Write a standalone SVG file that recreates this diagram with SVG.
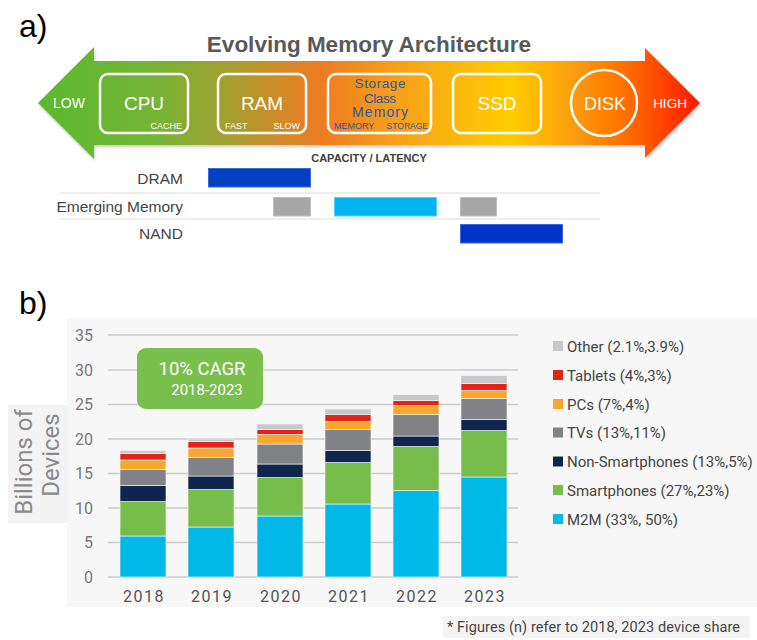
<svg xmlns="http://www.w3.org/2000/svg" width="757" height="640" viewBox="0 0 757 640">
<defs>
<linearGradient id="arrowGrad" gradientUnits="userSpaceOnUse" x1="38" y1="0" x2="700" y2="0">
<stop offset="0" stop-color="#5cb82e"/>
<stop offset="0.17" stop-color="#72b535"/>
<stop offset="0.29" stop-color="#a49f2f"/>
<stop offset="0.365" stop-color="#cf8a29"/>
<stop offset="0.426" stop-color="#ee7b22"/>
<stop offset="0.547" stop-color="#f6a21a"/>
<stop offset="0.713" stop-color="#ffcc00"/>
<stop offset="0.804" stop-color="#fca00a"/>
<stop offset="0.894" stop-color="#ff6a00"/>
<stop offset="1" stop-color="#ff1800"/>
</linearGradient>
<filter id="shadow" x="-5%" y="-10%" width="110%" height="130%">
<feDropShadow dx="1" dy="2" stdDeviation="1.5" flood-color="#000" flood-opacity="0.2"/>
</filter>
</defs>
<style>
.panel{font-family:"Liberation Sans",Arial,sans-serif;fill:#000;font-size:32px}
.title{font-family:"Liberation Sans",Arial,sans-serif;font-weight:bold;font-size:22.5px;fill:#595959}
.box{fill:none;stroke:#fff;stroke-width:2.5}
.wt{font-family:"Liberation Sans",Arial,sans-serif;fill:#fff}
.big{font-size:19px}
.small{font-size:9px}
.scm{font-family:"Liberation Sans",Arial,sans-serif;fill:#2f55a4}
.lane{font-family:"Liberation Sans",Arial,sans-serif;font-size:15.5px;fill:#444;text-anchor:end}
.sep{stroke:#dcdcdc;stroke-width:1}
.cap{font-family:"Liberation Sans",Arial,sans-serif;font-weight:bold;font-size:11px;fill:#404040;text-anchor:middle}
.grid{stroke:#cbcbcb;stroke-width:1.5}
.ytick{font-family:Roboto,"Liberation Sans",sans-serif;font-size:16px;fill:#777;text-anchor:end}
.xtick{font-family:Roboto,"Liberation Sans",sans-serif;font-size:16px;fill:#555;text-anchor:middle;letter-spacing:1.5px}
.leg{font-family:Roboto,"Liberation Sans",sans-serif;font-size:15px;fill:#444}
.m2m{fill:#00b9e8}.sm{fill:#76bd4b}.ns{fill:#0f274f}.tv{fill:#808285}.pc{fill:#f8a72e}.tab{fill:#e2231a}.oth{fill:#c8c8ca}
.seg rect{stroke:#f7f7f7;stroke-width:0.6}
</style>

<text class="panel" x="19" y="37">a)</text>
<text class="title" x="369" y="52" text-anchor="middle">Evolving Memory Architecture</text>

<g id="scale-arrow">
<path d="M38,103 L94,47 L94,61 L645,61 L645,48 L700,103 L645,158 L645,145 L94,145 L94,159 Z" fill="url(#arrowGrad)" filter="url(#shadow)"/>
<text class="wt" x="69" y="108" font-size="14" text-anchor="middle">LOW</text>
<text class="wt" x="670" y="108" font-size="13.5" text-anchor="middle">HIGH</text>
</g>

<g id="node-cpu">
<rect class="box" x="100" y="74" width="88" height="59" rx="8"/>
<text class="wt big" x="144" y="110" text-anchor="middle">CPU</text>
<text class="wt small" x="182" y="129" text-anchor="end">CACHE</text>
</g>
<g id="node-ram">
<rect class="box" x="218" y="74" width="88" height="59" rx="8"/>
<text class="wt big" x="262" y="110" text-anchor="middle">RAM</text>
<text class="wt small" x="225" y="129">FAST</text>
<text class="wt small" x="300" y="129" text-anchor="end">SLOW</text>
</g>
<g id="node-scm">
<rect class="box" x="328" y="74" width="103" height="59" rx="8"/>
<text class="scm" x="380" y="88" font-size="13.5" text-anchor="middle" textLength="51">Storage</text>
<text class="scm" x="380" y="102.5" font-size="13.5" text-anchor="middle" textLength="32">Class</text>
<text class="scm" x="380" y="117" font-size="14" text-anchor="middle" textLength="56">Memory</text>
<text class="scm" x="334" y="129" font-size="9">MEMORY</text>
<text class="scm" x="428" y="129" font-size="8.5" text-anchor="end">STORAGE</text>
</g>
<g id="node-ssd">
<rect class="box" x="453" y="74" width="88" height="59" rx="8"/>
<text class="wt big" x="497" y="110" text-anchor="middle">SSD</text>
</g>
<g id="node-disk">
<circle cx="604" cy="103" r="33" fill="none" stroke="#fff" stroke-width="2.5"/>
<text class="wt" x="605" y="110" font-size="18" text-anchor="middle">DISK</text>
</g>

<text class="cap" x="369" y="162">CAPACITY / LATENCY</text>

<g id="lanes">
<line class="sep" x1="60" y1="193" x2="600" y2="193"/>
<line class="sep" x1="60" y1="219" x2="600" y2="219"/>
</g>
<g id="lane-dram">
<text class="lane" x="183" y="184">DRAM</text>
<rect x="208.5" y="168.5" width="102" height="18.5" fill="#0041c2" stroke="#3a6ad8" stroke-width="1"/>
</g>
<g id="lane-emerging">
<text class="lane" x="183" y="212">Emerging Memory</text>
<rect x="273.5" y="197.5" width="37" height="18.5" fill="#a6a6a6" stroke="#bdbdbd" stroke-width="1"/>
<rect x="334.5" y="197.5" width="102" height="18.5" fill="#00b4f0" stroke="#5cd0f6" stroke-width="1"/>
<rect x="460.5" y="197.5" width="36" height="18.5" fill="#a6a6a6" stroke="#bdbdbd" stroke-width="1"/>
</g>
<g id="lane-nand">
<text class="lane" x="183" y="239">NAND</text>
<rect x="460.5" y="224.5" width="102" height="18.5" fill="#0033c8" stroke="#3a6ad8" stroke-width="1"/>
</g>

<text class="panel" x="19" y="314">b)</text>

<g id="chart">
<rect x="67" y="318" width="690" height="289" fill="#f7f7f7"/>
<rect x="8" y="405" width="59" height="118" fill="#f3f3f3"/>
<g transform="translate(32,462) rotate(-90)"><text x="0" y="0" font-family="Roboto,'Liberation Sans',sans-serif" font-size="24" fill="#8a8a8a" text-anchor="middle">Billions of</text></g>
<g transform="translate(59,455) rotate(-90)"><text x="0" y="0" font-family="Roboto,'Liberation Sans',sans-serif" font-size="24" fill="#8a8a8a" text-anchor="middle">Devices</text></g>

<g id="gridlines">
<line class="grid" x1="108" y1="335" x2="518" y2="335"/>
<line class="grid" x1="108" y1="370" x2="518" y2="370"/>
<line class="grid" x1="108" y1="404.5" x2="518" y2="404.5"/>
<line class="grid" x1="108" y1="439" x2="518" y2="439"/>
<line class="grid" x1="108" y1="473.5" x2="518" y2="473.5"/>
<line class="grid" x1="108" y1="508" x2="518" y2="508"/>
<line class="grid" x1="108" y1="542.5" x2="518" y2="542.5"/>
<line class="grid" x1="108" y1="577" x2="518" y2="577" stroke-width="2"/>
</g>
<g id="yticks">
<text class="ytick" x="93" y="340.5">35</text>
<text class="ytick" x="93" y="375.5">30</text>
<text class="ytick" x="93" y="410">25</text>
<text class="ytick" x="93" y="444.5">20</text>
<text class="ytick" x="93" y="479">15</text>
<text class="ytick" x="93" y="513.5">10</text>
<text class="ytick" x="93" y="548">5</text>
<text class="ytick" x="93" y="582.5">0</text>
</g>

<g id="bar-2018" class="seg">
<rect class="m2m" x="120" y="536" width="46" height="41"/>
<rect class="sm" x="120" y="501.5" width="46" height="34.5"/>
<rect class="ns" x="120" y="485.5" width="46" height="16"/>
<rect class="tv" x="120" y="469.5" width="46" height="16"/>
<rect class="pc" x="120" y="460" width="46" height="9.5"/>
<rect class="tab" x="120" y="453.5" width="46" height="6.5"/>
<rect class="oth" x="120" y="450.5" width="46" height="3"/>
</g>
<g id="bar-2019" class="seg">
<rect class="m2m" x="188" y="527" width="46" height="50"/>
<rect class="sm" x="188" y="489.5" width="46" height="37.5"/>
<rect class="ns" x="188" y="476" width="46" height="13.5"/>
<rect class="tv" x="188" y="457.5" width="46" height="18.5"/>
<rect class="pc" x="188" y="448" width="46" height="9.5"/>
<rect class="tab" x="188" y="441.5" width="46" height="6.5"/>
<rect class="oth" x="188" y="439" width="46" height="2.5"/>
</g>
<g id="bar-2020" class="seg">
<rect class="m2m" x="257" y="516" width="46" height="61"/>
<rect class="sm" x="257" y="477.5" width="46" height="38.5"/>
<rect class="ns" x="257" y="464" width="46" height="13.5"/>
<rect class="tv" x="257" y="444" width="46" height="20"/>
<rect class="pc" x="257" y="434.5" width="46" height="9.5"/>
<rect class="tab" x="257" y="429.5" width="46" height="5"/>
<rect class="oth" x="257" y="424" width="46" height="5.5"/>
</g>
<g id="bar-2021" class="seg">
<rect class="m2m" x="325" y="504" width="46" height="73"/>
<rect class="sm" x="325" y="462.5" width="46" height="41.5"/>
<rect class="ns" x="325" y="450.5" width="46" height="12"/>
<rect class="tv" x="325" y="429.5" width="46" height="21"/>
<rect class="pc" x="325" y="421.5" width="46" height="8"/>
<rect class="tab" x="325" y="414.5" width="46" height="7"/>
<rect class="oth" x="325" y="409" width="46" height="5.5"/>
</g>
<g id="bar-2022" class="seg">
<rect class="m2m" x="393" y="490.5" width="46" height="86.5"/>
<rect class="sm" x="393" y="446.5" width="46" height="44"/>
<rect class="ns" x="393" y="436" width="46" height="10.5"/>
<rect class="tv" x="393" y="414.5" width="46" height="21.5"/>
<rect class="pc" x="393" y="405.5" width="46" height="9"/>
<rect class="tab" x="393" y="400.5" width="46" height="5"/>
<rect class="oth" x="393" y="394.5" width="46" height="6"/>
</g>
<g id="bar-2023" class="seg">
<rect class="m2m" x="461" y="477" width="46" height="100"/>
<rect class="sm" x="461" y="430.5" width="46" height="46.5"/>
<rect class="ns" x="461" y="419.5" width="46" height="11"/>
<rect class="tv" x="461" y="398.5" width="46" height="21"/>
<rect class="pc" x="461" y="390.5" width="46" height="8"/>
<rect class="tab" x="461" y="383.5" width="46" height="7"/>
<rect class="oth" x="461" y="375.5" width="46" height="8"/>
</g>

<g id="xticks">
<text class="xtick" x="144" y="602">2018</text>
<text class="xtick" x="212" y="602">2019</text>
<text class="xtick" x="281" y="602">2020</text>
<text class="xtick" x="349" y="602">2021</text>
<text class="xtick" x="417" y="602">2022</text>
<text class="xtick" x="485" y="602">2023</text>
</g>

<g id="cagr-callout">
<rect x="137" y="348" width="126" height="61" rx="9" fill="#78bf4c"/>
<text x="202" y="375" font-family="Roboto,'Liberation Sans',sans-serif" font-size="18.5" fill="#fff" text-anchor="middle">10% CAGR</text>
<text x="207" y="395" font-family="Roboto,'Liberation Sans',sans-serif" font-size="15" fill="#fff" text-anchor="middle">2018-2023</text>
</g>

<g id="legend">
<rect class="oth" x="553" y="341" width="10" height="10"/><text class="leg" x="567" y="351.5">Other (2.1%,3.9%)</text>
<rect class="tab" x="553" y="370" width="10" height="10"/><text class="leg" x="567" y="380.5">Tablets (4%,3%)</text>
<rect class="pc" x="553" y="399" width="10" height="10"/><text class="leg" x="567" y="409.5">PCs (7%,4%)</text>
<rect class="tv" x="553" y="427.5" width="10" height="10"/><text class="leg" x="567" y="438">TVs (13%,11%)</text>
<rect class="ns" x="553" y="456.5" width="10" height="10"/><text class="leg" x="567" y="467">Non-Smartphones (13%,5%)</text>
<rect class="sm" x="553" y="485" width="10" height="10"/><text class="leg" x="567" y="495.5">Smartphones (27%,23%)</text>
<rect class="m2m" x="553" y="514" width="10" height="10"/><text class="leg" x="567" y="524.5">M2M (33%, 50%)</text>
</g>
</g>

<g id="footnote">
<rect x="443" y="616" width="307" height="22" fill="#f4f4f4"/>
<text x="447" y="632" font-family="Roboto,'Liberation Sans',sans-serif" font-size="14.5" fill="#444" textLength="293">* Figures (n) refer to 2018, 2023 device share</text>
</g>
</svg>
